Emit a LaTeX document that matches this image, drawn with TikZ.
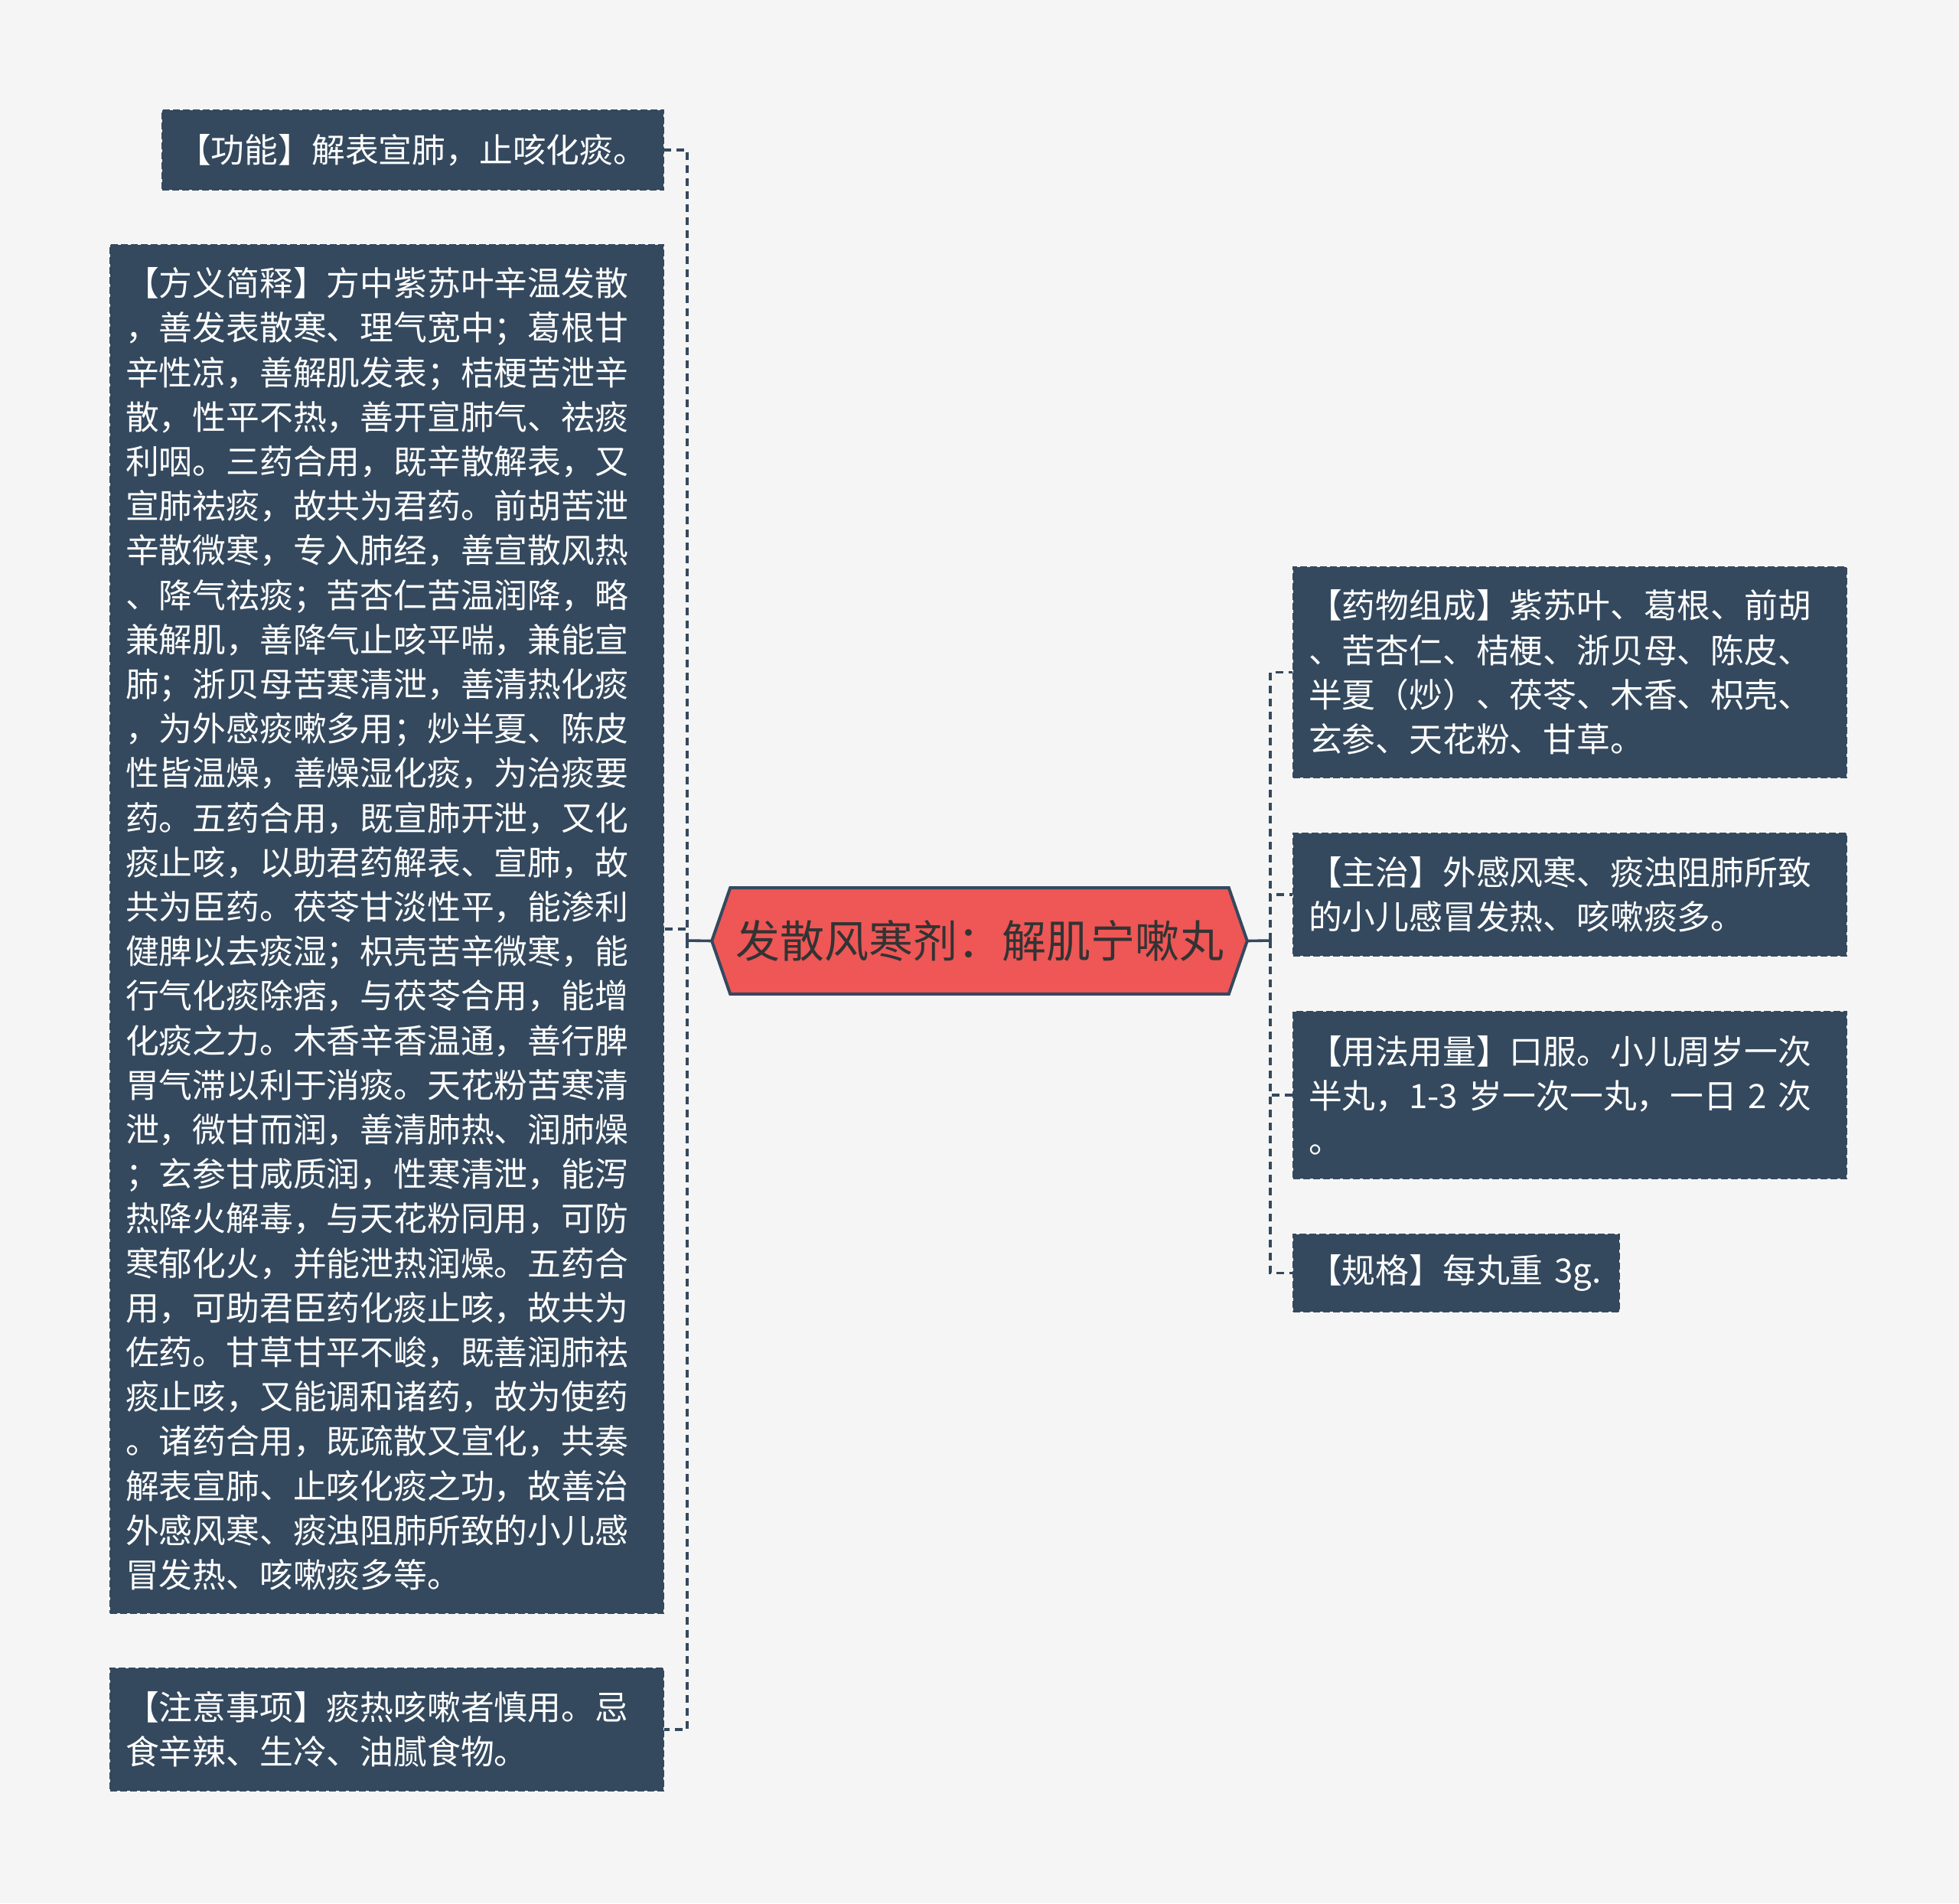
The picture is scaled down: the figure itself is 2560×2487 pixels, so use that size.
\documentclass[tikz,border=0pt]{standalone}
\usepackage{fontspec}
\setmainfont{Noto Sans CJK SC}
\usetikzlibrary{backgrounds}

\definecolor{bgcol}{HTML}{F5F5F5}
\definecolor{boxcol}{HTML}{34495E}
\definecolor{hubcol}{HTML}{EF5656}
\definecolor{hubtxt}{HTML}{333333}

\begin{document}
\begin{tikzpicture}[x=0.25pt,y=-0.25pt,
  leaf/.style={fill=boxcol,draw=boxcol,line width=0.5pt,dash pattern=on 2.25pt off 1pt,
    text=white,align=left,inner xsep=5pt,inner ysep=0pt,text width=170.75pt,
    font=\fontsize{10.95pt}{14.55pt}\selectfont},
  hubtext/.style={text=hubtxt,inner sep=0pt,minimum width=162.5pt,minimum height=34.25pt,
    font=\fontsize{14.5pt}{17pt}\selectfont},
  hubshape/.style={fill=hubcol,draw=boxcol,line width=1pt,line join=miter},
  link/.style={draw=boxcol,line width=0.9pt},
  dashlink/.style={link,dash pattern=on 2.5pt off 1.75pt}]

  \useasboundingbox (0,0) rectangle (2560,2487);

  \node[hubtext] (hub) at (1280,1229.5) {发散风寒剂：解肌宁嗽丸};
  \coordinate (hubw) at ([xshift=-6pt]hub.west);
  \coordinate (hube) at ([xshift=6pt]hub.east);
  \begin{scope}[on background layer]
    \fill[bgcol] (0,0) rectangle (2560,2487);
    \filldraw[hubshape] (hubw) -- (hub.north west) -- (hub.north east) -- (hube)
      -- (hub.south east) -- (hub.south west) -- cycle;
  \end{scope}

  % left branch
  \node[leaf,text width=153.75pt,minimum height=26pt] (fn) at (539.5,196)
    {【功能】解表宣肺，止咳化痰。};
  \node[leaf,minimum height=447pt] (fy) at (505.5,1214)
    {【方义简释】方中紫苏叶辛温发散\\，善发表散寒、理气宽中；葛根甘\\辛性凉，善解肌发表；桔梗苦泄辛\\散，性平不热，善开宣肺气、祛痰\\利咽。三药合用，既辛散解表，又\\宣肺祛痰，故共为君药。前胡苦泄\\辛散微寒，专入肺经，善宣散风热\\、降气祛痰；苦杏仁苦温润降，略\\兼解肌，善降气止咳平喘，兼能宣\\肺；浙贝母苦寒清泄，善清热化痰\\，为外感痰嗽多用；炒半夏、陈皮\\性皆温燥，善燥湿化痰，为治痰要\\药。五药合用，既宣肺开泄，又化\\痰止咳，以助君药解表、宣肺，故\\共为臣药。茯苓甘淡性平，能渗利\\健脾以去痰湿；枳壳苦辛微寒，能\\行气化痰除痞，与茯苓合用，能增\\化痰之力。木香辛香温通，善行脾\\胃气滞以利于消痰。天花粉苦寒清\\泄，微甘而润，善清肺热、润肺燥\\；玄参甘咸质润，性寒清泄，能泻\\热降火解毒，与天花粉同用，可防\\寒郁化火，并能泄热润燥。五药合\\用，可助君臣药化痰止咳，故共为\\佐药。甘草甘平不峻，既善润肺祛\\痰止咳，又能调和诸药，故为使药\\。诸药合用，既疏散又宣化，共奏\\解表宣肺、止咳化痰之功，故善治\\外感风寒、痰浊阻肺所致的小儿感\\冒发热、咳嗽痰多等。};
  \node[leaf,minimum height=40pt] (zy) at (505.5,2260)
    {【注意事项】痰热咳嗽者慎用。忌\\食辛辣、生冷、油腻食物。};

  % right branch
  \node[leaf,minimum height=68.75pt] (yw) at (2051.5,878.5)
    {【药物组成】紫苏叶、葛根、前胡\\、苦杏仁、桔梗、浙贝母、陈皮、\\半夏（炒）、茯苓、木香、枳壳、\\玄参、天花粉、甘草。};
  \node[leaf,minimum height=40pt] (zz) at (2051.5,1169)
    {【主治】外感风寒、痰浊阻肺所致\\的小儿感冒发热、咳嗽痰多。};
  \node[leaf,minimum height=54.5pt] (yf) at (2051.5,1431)
    {【用法用量】口服。小儿周岁一次\\半丸，1-3 岁一次一丸，一日 2 次\\。};
  \node[leaf,text width=96.5pt,minimum height=25.25pt] (gg) at (1903,1663.5)
    {【规格】每丸重 3g.};

  \coordinate (lj) at (898,1229);
  \coordinate (rj) at (1660,1229);
  \draw[link] (hubw) -- (lj);
  \draw[link] (hube) -- (rj);
  \foreach \b in {fn,fy,zy}
    \draw[dashlink] (lj) |- (\b.east);
  \foreach \b in {yw,zz,yf,gg}
    \draw[dashlink] (rj) |- (\b.west);

\end{tikzpicture}
\end{document}
